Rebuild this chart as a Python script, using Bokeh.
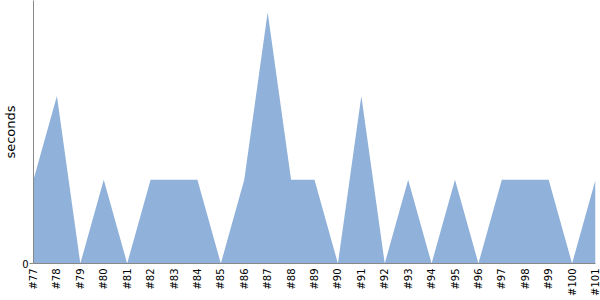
from bokeh.plotting import figure
from bokeh.models import Range1d, FixedTicker
from bokeh.embed import file_html
from bokeh.resources import INLINE
import math

builds = ["#77", "#78", "#79", "#80", "#81", "#82", "#83", "#84", "#85", "#86", "#87", "#88", "#89",
          "#90", "#91", "#92", "#93", "#94", "#95", "#96", "#97", "#98", "#99", "#100", "#101"]
seconds = [1, 2, 0, 1, 0, 1, 1, 1, 0, 1, 3, 1, 1, 0, 2, 0, 1, 0, 1, 0, 1, 1, 1, 0, 1]

xs = list(range(len(builds)))

p = figure(width=600, height=300, output_backend="svg", toolbar_location=None,
           x_range=Range1d(0, len(builds) - 1), y_range=Range1d(0, 3.14),
           min_border_left=10, min_border_right=5, min_border_top=0, min_border_bottom=37)
p.outline_line_color = None
p.xgrid.visible = False
p.ygrid.visible = False

p.varea(x=xs, y1=[0] * len(xs), y2=seconds, fill_color="#8FB1DA", fill_alpha=1.0)

p.xaxis.ticker = FixedTicker(ticks=xs)
p.xaxis.major_label_overrides = {i: b for i, b in enumerate(builds)}
p.xaxis.major_label_orientation = math.pi / 2
p.xaxis.major_tick_out = 0
p.xaxis.major_tick_in = 0
p.xaxis.minor_tick_line_color = None
p.xaxis.axis_line_color = "#888888"
p.xaxis.major_label_text_font_size = "10px"
p.xaxis.major_label_text_color = "black"
p.xaxis.major_label_text_font = "DejaVu Sans"
p.xaxis.major_label_standoff = 5

p.yaxis.ticker = FixedTicker(ticks=[0])
p.yaxis.major_tick_out = 4
p.yaxis.major_tick_in = 0
p.yaxis.major_tick_line_color = "#888888"
p.yaxis.minor_tick_line_color = None
p.yaxis.axis_line_color = "#888888"
p.yaxis.major_label_text_font_size = "10px"
p.yaxis.major_label_text_color = "black"
p.yaxis.major_label_text_font = "DejaVu Sans"
p.yaxis.major_label_standoff = 1
p.yaxis.axis_label = "seconds"
p.yaxis.axis_label_text_font_style = "normal"
p.yaxis.axis_label_text_font_size = "13px"
p.yaxis.axis_label_text_font = "DejaVu Sans"
p.yaxis.axis_label_text_color = "black"
p.yaxis.axis_label_standoff = 1

open("out.html", "w").write(file_html(p, INLINE))
